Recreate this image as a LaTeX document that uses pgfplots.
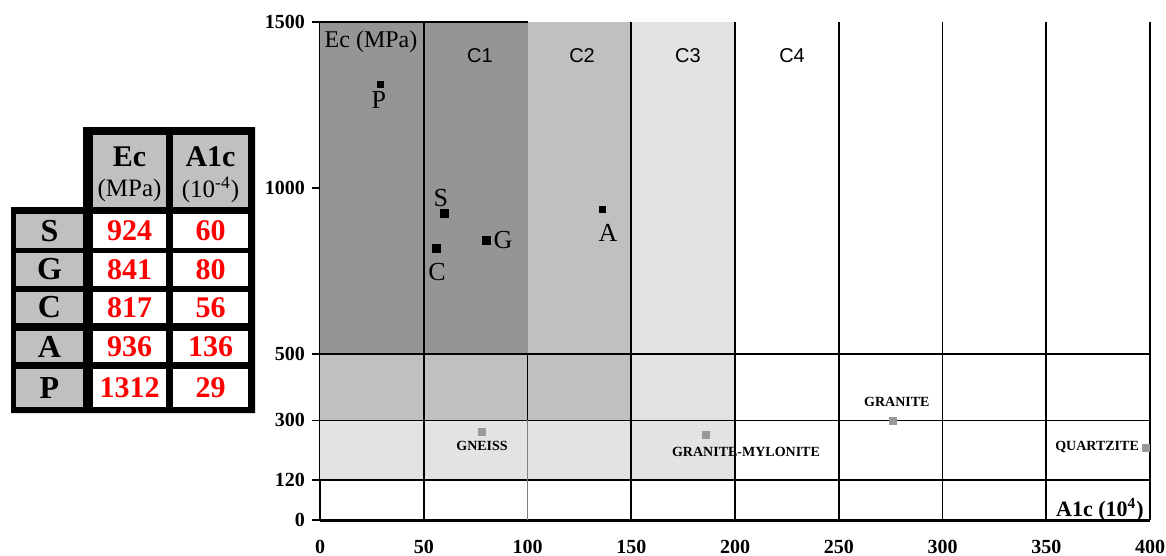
\documentclass[border=0pt]{standalone}
\usepackage{pgfplots}
\pgfplotsset{compat=1.18}
\usepackage{fontspec}
\setmainfont{Liberation Serif}
\newfontfamily\sansf{Liberation Sans}
\definecolor{dk}{HTML}{959595}
\definecolor{md}{HTML}{C0C0C0}
\definecolor{lt}{HTML}{E3E3E3}
\definecolor{pt}{HTML}{999999}
\begin{document}
\begin{tikzpicture}
\useasboundingbox (0,0) rectangle (583pt,-278pt);
% ---- table ----
\begin{scope}[x=0.5pt,y=-0.5pt]
\fill[black] (83,127) -- (255,127) -- (255,413) -- (11,413) -- (11,207) -- (83,207) -- cycle;
\fill[md] (93,135) rectangle (166,207);
\fill[md] (173,135) rectangle (248,207);
\foreach \ya/\yb in {214/248,253/286,292/323,331/362,369/407}{
  \fill[md] (16,\ya) rectangle (83,\yb);
  \fill[white] (93,\ya) rectangle (166,\yb);
  \fill[white] (173,\ya) rectangle (248,\yb);
}
\node[font=\fontsize{15}{15}\selectfont\bfseries] at (129.5,157) {Ec};
\node[font=\fontsize{12.5}{13}\selectfont] at (129.5,190) {(MPa)};
\node[font=\fontsize{15}{15}\selectfont\bfseries] at (210.5,157) {A1c};
\node[font=\fontsize{12.5}{13}\selectfont] at (210.5,190) {(10\textsuperscript{-4})};
\foreach \lab/\ec/\al/\yc in {S/924/60/231,G/841/80/269.5,C/817/56/307.5,A/936/136/346.5,P/1312/29/388}{
  \node[font=\fontsize{16}{16}\selectfont\bfseries] at (49.5,\yc) {\lab};
  \node[font=\fontsize{15}{15}\selectfont\bfseries, text=red] at (129.5,\yc) {\ec};
  \node[font=\fontsize{15}{15}\selectfont\bfseries, text=red] at (210.5,\yc) {\al};
}
\end{scope}
% ---- chart ----
\begin{axis}[at={(160pt,-260pt)}, anchor=south west, scale only axis,
  width=415pt, height=249pt, xmin=0, xmax=400, ymin=0, ymax=1500, clip=false,
  axis x line*=bottom, axis y line*=left,
  x axis line style={-, line width=1.5pt}, y axis line style={-, line width=1pt},
  xtick={0,50,...,400}, ytick={0,120,300,500,1000,1500},
  xtick style={draw=none}, ytick style={black, line width=0.8pt},
  tick align=outside, major tick length=4pt,
  /pgf/number format/assume math mode=true,
  ticklabel style={font=\fontsize{10}{12}\selectfont\bfseries},
  xticklabel style={yshift=-2.5pt},
  /pgf/number format/1000 sep={},
]
% shaded zones
\addplot[fill=dk, draw=none] coordinates {(0,500)(100,500)(100,1500)(0,1500)} --cycle;
\addplot[fill=md, draw=none] coordinates {(100,500)(150,500)(150,1500)(100,1500)} --cycle;
\addplot[fill=lt, draw=none] coordinates {(150,120)(200,120)(200,1500)(150,1500)} --cycle;
\addplot[fill=md, draw=none] coordinates {(0,300)(150,300)(150,500)(0,500)} --cycle;
\addplot[fill=lt, draw=none] coordinates {(0,120)(150,120)(150,300)(0,300)} --cycle;
% grid lines
\addplot[black, line width=0.9pt] coordinates {(0,500)(400,500)};
\addplot[black, line width=0.9pt] coordinates {(0,300)(400,300)};
\addplot[black, line width=0.9pt] coordinates {(0,120)(400,120)};
\addplot[black, line width=0.9pt] coordinates {(0,1500)(100,1500)};
\addplot[black, line width=0.9pt] coordinates {(50,0)(50,1500)};
\addplot[black, line width=0.9pt] coordinates {(150,0)(150,1500)};
\addplot[black, line width=0.9pt] coordinates {(200,0)(200,1500)};
\addplot[black, line width=0.9pt] coordinates {(250,0)(250,1500)};
\addplot[black, line width=0.9pt] coordinates {(300,0)(300,1500)};
\addplot[black, line width=0.9pt] coordinates {(350,0)(350,1500)};
\addplot[black, line width=0.9pt] coordinates {(400,0)(400,1500)};
\addplot[black, line width=0.9pt] coordinates {(100,300)(100,500)};
\addplot[gray, line width=0.8pt] coordinates {(100,0)(100,300)};
% samples
\addplot[only marks, mark=square*, mark size=2pt, black] coordinates {(60,924)(80,841)(56,817)};
\addplot[only marks, mark=square*, mark size=1.5pt, black] coordinates {(136,936)(29,1312)};
\addplot[only marks, mark=square*, mark size=1.7pt, pt, mark options={draw=pt,fill=pt}] coordinates {(78,265)(186,256)(276,298)(398,217)};
% labels
\begin{scope}[every node/.style={font=\fontsize{13}{13}\selectfont, inner sep=0pt}]
\node at (axis cs:28.4,1265) {P};
\node at (axis cs:58.3,970) {S};
\node at (axis cs:88.2,843) {G};
\node at (axis cs:56.4,747) {C};
\node at (axis cs:138.8,864) {A};
\end{scope}
\begin{scope}[every node/.style={font=\fontsize{7}{7}\selectfont\bfseries, inner sep=0pt}]
\node at (axis cs:78.1,223) {GNEISS};
\node at (axis cs:205.3,205) {GRANITE-MYLONITE};
\node at (axis cs:278,355) {GRANITE};
\node at (axis cs:374.5,220) {QUARTZITE};
\end{scope}
\begin{scope}[every node/.style={font=\sansf\fontsize{10}{10}\selectfont, inner sep=0pt}]
\node at (axis cs:77.1,1398) {C1};
\node at (axis cs:126.3,1398) {C2};
\node at (axis cs:177.3,1398) {C3};
\node at (axis cs:227.5,1398) {C4};
\end{scope}
\node[font=\fontsize{12}{12}\selectfont, inner sep=0pt] at (axis cs:24.6,1440) {Ec (MPa)};
\node[font=\fontsize{11}{11}\selectfont\bfseries, inner sep=0pt] at (axis cs:375.9,30) {A1c (10\textsuperscript{4})};
\end{axis}
\end{tikzpicture}
\end{document}
